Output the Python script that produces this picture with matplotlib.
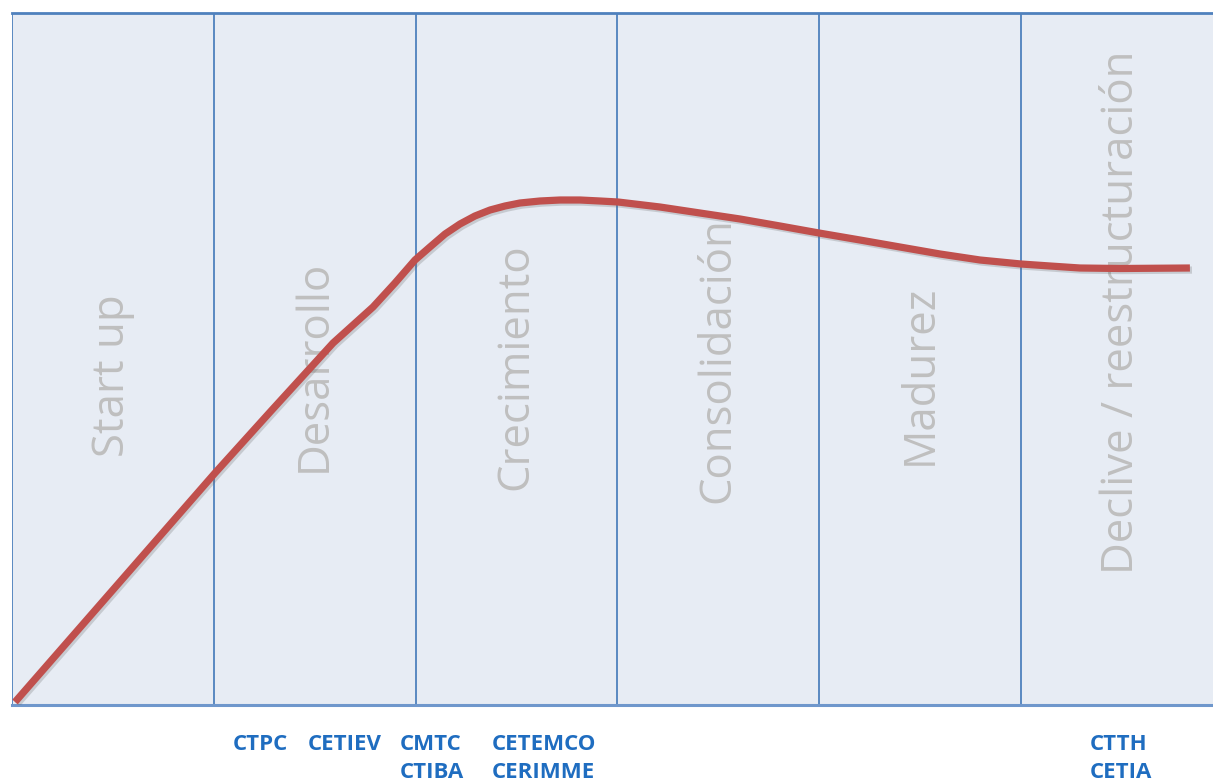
import matplotlib
matplotlib.use("Agg")
import matplotlib.pyplot as plt
import matplotlib.patheffects as pe

# fases del ciclo de vida
stages = ['Start up', 'Desarrollo', 'Crecimiento', 'Consolidación', 'Madurez',
          'Declive / reestructuración']

# curva (x en unidades de fase, y en unidades arbitrarias)
curve_x = [0.015, 1.006, 1.279, 1.591, 1.789, 1.898, 1.997, 2.071, 2.146, 2.220,
           2.294, 2.369, 2.443, 2.517, 2.616, 2.716, 2.815, 2.914, 3.003, 3.211,
           3.409, 3.608, 3.806, 3.999, 4.202, 4.400, 4.599, 4.797, 5.0, 5.144,
           5.292, 5.491, 5.837]
curve_y = [3, 232, 293, 362, 398, 422, 445, 458, 471, 481,
           489, 495, 499, 502, 504, 505, 505, 504, 503, 498,
           492, 486, 479, 472, 465, 458, 451, 445, 441, 439,
           437, 436.5, 437]

# centros
centers_row1 = ['CTPC', 'CETIEV', 'CMTC', 'CETEMCO', 'CTTH']
centers_row2 = ['', '', 'CTIBA', 'CERIMME', 'CETIA']
center_x = [1.095, 1.467, 1.923, 2.379, 5.342]

# posicion vertical (centro) de cada rotulo de fase
stage_label_y = [329, 339, 338, 345, 330, 393]

W, H = 1213, 782
fig = plt.figure(figsize=(W / 100, H / 100), dpi=100)
left, bottom, top = 12 / W, (H - 705) / H, (H - 13) / H
ax = fig.add_axes([left, bottom, 1 - left, top - bottom])
ax.set_facecolor('#E7ECF4')
ax.set_xlim(0, (W - 12) / 201.8)
ax.set_ylim(0, 692)
ax.set_xticks([])
ax.set_yticks([])
for s in ['left', 'right', 'bottom', 'top']:
    ax.spines[s].set_visible(False)

blue = '#4F81BD'
for i in range(len(stages)):
    ax.axvline(i, color=blue, lw=1.3, zorder=1)
ax.axhline(692, color=blue, lw=2.0, zorder=1, clip_on=False)
ax.axhline(0, color='#6F97CC', lw=2.2, zorder=1, clip_on=False)

for i, name in enumerate(stages):
    ax.text(i + 0.5, stage_label_y[i], name, rotation=90, ha='center', va='center',
            fontsize=31.5, color='#BFBFBF', family='Open Sans', zorder=2)

ax.plot(curve_x, curve_y, color='#C0504D', lw=5.2, solid_capstyle='butt',
        solid_joinstyle='round', zorder=3,
        path_effects=[pe.SimpleLineShadow(offset=(1.5, -1.5), shadow_color='#666666', alpha=0.25),
                      pe.Normal()])

for x, t1, t2 in zip(center_x, centers_row1, centers_row2):
    ax.text(x, -39, t1, ha='left', va='center', fontsize=16, fontweight='bold',
            color='#1F6DC0', family='Open Sans', clip_on=False)
    if t2:
        ax.text(x, -68, t2, ha='left', va='center', fontsize=16, fontweight='bold',
                color='#1F6DC0', family='Open Sans', clip_on=False)

fig.savefig('out.png', dpi=100, facecolor='white')
